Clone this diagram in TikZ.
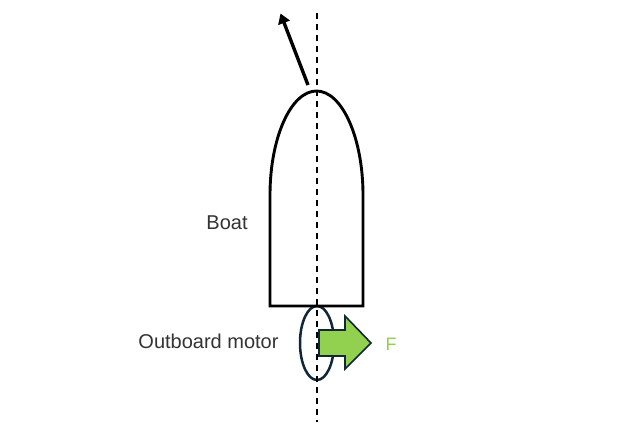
\documentclass[tikz,border=0pt]{standalone}
\usepackage{fontspec}
\setmainfont{Liberation Sans}
\usetikzlibrary{arrows.meta,shapes.geometric}
\definecolor{fgreen}{HTML}{92D050}
\definecolor{navy}{HTML}{12263A}
\definecolor{txt}{HTML}{333333}
\tikzset{
  x=1pt,y=-1pt,
  hull/.style={draw=black,line width=2.9pt,line join=miter},
  axisline/.style={draw=black,line width=1.3pt,dash pattern=on 6pt off 5pt},
  label/.style={font=\fontsize{20}{24}\selectfont,text=txt,inner sep=0pt,anchor=center},
  motor/.style={draw=navy,line width=2.5pt,ellipse,minimum width=34pt,minimum height=74pt,inner sep=0pt},
}
\begin{document}
\begin{tikzpicture}
\useasboundingbox (0,0) rectangle (632,434);
\fill[white] (0,0) rectangle (632,434);
\coordinate (top) at (317,13);
\coordinate (bottom) at (317,422);
\coordinate (headfrom) at (308,85);
\coordinate (headto) at (280.5,13.5);
\node[motor] (motorshape) at (317,343) {};
\path[hull] (270,306) -- (270,195) .. controls (270,137.6) and (291,91) .. (316.5,91) .. controls (342,91) and (363,137.6) .. (363,195) -- (363,306) -- cycle;
\draw[axisline] (top) -- (bottom);
\draw[black,line width=3.4pt,-{Triangle[length=10pt,width=12pt]}] (headfrom) -- (headto);
\path[draw=navy,fill=fgreen,line width=1.6pt,line join=miter] (319,330) -- (345,330) -- (345,316) -- (371,343) -- (345,369) -- (345,356) -- (319,356) -- cycle;
\node[label] (boat) at (227,223) {Boat};
\node[label] (om) at (208.5,341) {Outboard motor};
\node[label,text=fgreen,font=\fontsize{18}{20}\selectfont] (force) at (391,344) {F};
\end{tikzpicture}
\end{document}
